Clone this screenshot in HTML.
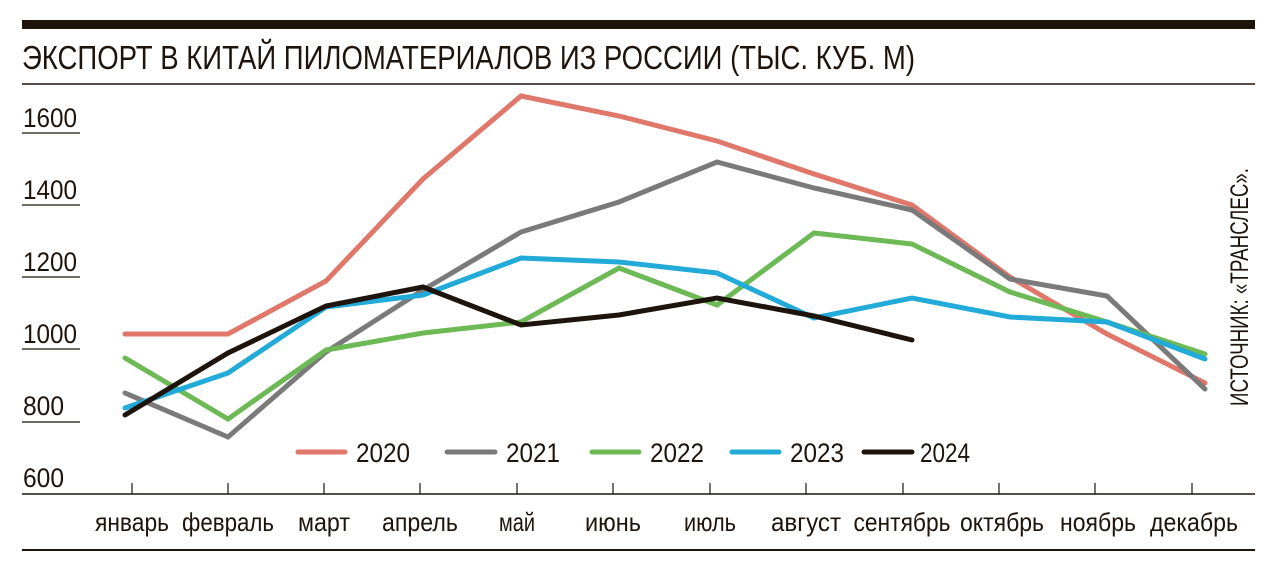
<!DOCTYPE html>
<html><head><meta charset="utf-8"><style>
html,body{margin:0;padding:0;background:#fff;}
svg{display:block;}
text{font-family:"Liberation Sans Narrow","Liberation Sans",sans-serif;fill:#1e140c;}
</style></head><body>
<svg width="1276" height="572" viewBox="0 0 1276 572" xmlns="http://www.w3.org/2000/svg">
<rect x="22" y="20" width="1233" height="9" fill="#1e140c"/>
<text x="22" y="69" font-size="33" textLength="893" lengthAdjust="spacingAndGlyphs">ЭКСПОРТ В КИТАЙ ПИЛОМАТЕРИАЛОВ ИЗ РОССИИ (ТЫС. КУБ. М)</text>
<line x1="22" y1="84" x2="1255" y2="84" stroke="#1e140c" stroke-width="1.5"/>
<g font-size="27">
<text x="23" y="127" textLength="54" lengthAdjust="spacingAndGlyphs">1600</text>
<text x="23" y="199" textLength="54" lengthAdjust="spacingAndGlyphs">1400</text>
<text x="23" y="271" textLength="54" lengthAdjust="spacingAndGlyphs">1200</text>
<text x="23" y="343" textLength="54" lengthAdjust="spacingAndGlyphs">1000</text>
<text x="23" y="415" textLength="41" lengthAdjust="spacingAndGlyphs">800</text>
<text x="23" y="487" textLength="41" lengthAdjust="spacingAndGlyphs">600</text>
</g>
<g stroke="#1e140c" stroke-width="1.2">
<line x1="22" y1="133" x2="80" y2="133"/><line x1="22" y1="205" x2="80" y2="205"/>
<line x1="22" y1="277" x2="80" y2="277"/><line x1="22" y1="349" x2="80" y2="349"/>
<line x1="22" y1="422" x2="80" y2="422"/>
<line x1="22" y1="494" x2="1255" y2="494" stroke-width="1.5"/>
<line x1="22" y1="550" x2="1255" y2="550" stroke-width="2"/>
<line x1="132" y1="483" x2="132" y2="494"/><line x1="228" y1="483" x2="228" y2="494"/>
<line x1="324" y1="483" x2="324" y2="494"/><line x1="420" y1="483" x2="420" y2="494"/>
<line x1="517" y1="483" x2="517" y2="494"/><line x1="613" y1="483" x2="613" y2="494"/>
<line x1="710" y1="483" x2="710" y2="494"/><line x1="806" y1="483" x2="806" y2="494"/>
<line x1="903" y1="483" x2="903" y2="494"/><line x1="999" y1="483" x2="999" y2="494"/>
<line x1="1095" y1="483" x2="1095" y2="494"/><line x1="1192" y1="483" x2="1192" y2="494"/>
</g>
<g font-size="26" text-anchor="middle" lengthAdjust="spacingAndGlyphs">
<text x="132" y="531" textLength="74" lengthAdjust="spacingAndGlyphs">январь</text>
<text x="228" y="531" textLength="92" lengthAdjust="spacingAndGlyphs">февраль</text>
<text x="324" y="531" textLength="52" lengthAdjust="spacingAndGlyphs">март</text>
<text x="420" y="531" textLength="76" lengthAdjust="spacingAndGlyphs">апрель</text>
<text x="517" y="531" textLength="36" lengthAdjust="spacingAndGlyphs">май</text>
<text x="613" y="531" textLength="56" lengthAdjust="spacingAndGlyphs">июнь</text>
<text x="710" y="531" textLength="52" lengthAdjust="spacingAndGlyphs">июль</text>
<text x="806" y="531" textLength="70" lengthAdjust="spacingAndGlyphs">август</text>
<text x="902" y="531" textLength="97" lengthAdjust="spacingAndGlyphs">сентябрь</text>
<text x="1002" y="531" textLength="84" lengthAdjust="spacingAndGlyphs">октябрь</text>
<text x="1098" y="531" textLength="76" lengthAdjust="spacingAndGlyphs">ноябрь</text>
<text x="1194" y="531" textLength="88" lengthAdjust="spacingAndGlyphs">декабрь</text>
</g>
<g fill="none" stroke-width="5" stroke-linejoin="miter" stroke-linecap="round">
<polyline stroke="#e0776b" points="125,334 228,334 326,281 423,179 521,96 619,116 717,141 814,174 912,205 1010,277 1107,334 1205,383"/>
<polyline stroke="#7b7a7a" points="125,393 228,437 326,352 423,290 521,232 619,202 717,162 814,188 912,210 1010,279 1107,296 1205,389"/>
<polyline stroke="#6cb955" points="125,358 228,419 326,350 423,333 521,322 619,268 717,305 814,233 912,244 1010,292 1107,322 1205,354"/>
<polyline stroke="#22aad8" points="125,408 228,373 326,307 423,295 521,258 619,262 717,273 814,318 912,298 1010,317 1107,322 1205,359"/>
<polyline stroke="#1e140c" points="125,415 228,353 326,306 423,287 521,325 619,315 717,298 814,316 912,340"/>
</g>
<g stroke-width="5" stroke-linecap="round">
<line x1="298" y1="452" x2="345" y2="452" stroke="#e0776b"/>
<line x1="447" y1="452" x2="495" y2="452" stroke="#7b7a7a"/>
<line x1="592" y1="452" x2="639" y2="452" stroke="#6cb955"/>
<line x1="732" y1="452" x2="779" y2="452" stroke="#22aad8"/>
<line x1="864" y1="452" x2="912" y2="452" stroke="#1e140c"/>
</g>
<g font-size="27">
<text x="356" y="462" textLength="54" lengthAdjust="spacingAndGlyphs">2020</text>
<text x="506" y="462" textLength="54" lengthAdjust="spacingAndGlyphs">2021</text>
<text x="650" y="462" textLength="54" lengthAdjust="spacingAndGlyphs">2022</text>
<text x="790" y="462" textLength="54" lengthAdjust="spacingAndGlyphs">2023</text>
<text x="920" y="462" textLength="50" lengthAdjust="spacingAndGlyphs">2024</text>
</g>
<text transform="translate(1248,406) rotate(-90)" font-size="25" textLength="238" lengthAdjust="spacingAndGlyphs">ИСТОЧНИК: «ТРАНСЛЕС».</text>
</svg>
</body></html>
